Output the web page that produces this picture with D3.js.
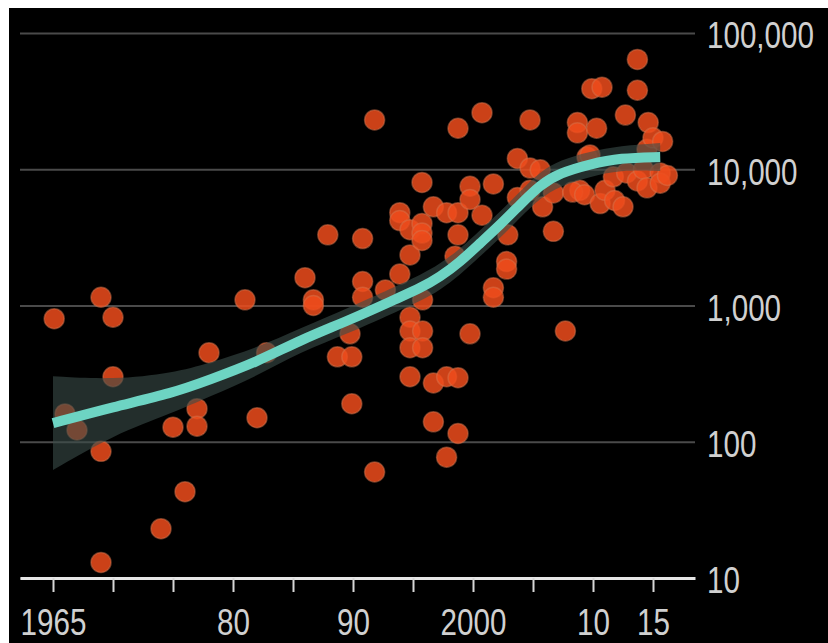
<!DOCTYPE html>
<html>
<head>
<meta charset="utf-8">
<script src="https://cdn.jsdelivr.net/npm/d3@7"></script>
<style>
  body { margin: 0; background: #fff; }
  svg { display: block; }
  .tick text { font-family: "Liberation Sans", Arial, sans-serif; fill: #d0d0d0; }
</style>
</head>
<body>
<svg id="chart" width="828" height="643"></svg>
<script>
// dots: year and value
let dotYears = [
    1965.1, 1966, 1967, 1969, 1969, 1969, 1970, 1970, 1974, 1975, 1976, 1977, 1977, 1978, 1981, 1982, 1982.8,
    1986, 1986.7, 1986.7, 1987.9, 1988.7, 1989.75, 1989.9, 1989.9, 1990.8, 1990.8, 1990.8, 1991.8, 1991.8, 1992.7,
    1993.9, 1993.9, 1993.9, 1994.75, 1994.75, 1994.75, 1994.75, 1994.75, 1994.75,
    1995.75, 1995.75, 1995.75, 1995.75, 1995.8, 1995.8, 1995.8, 1996.7, 1996.7, 1996.7,
    1997.8, 1997.8, 1997.8, 1998.75, 1998.75, 1998.75, 1998.75, 1998.75, 1998.5,
    1999.75, 1999.75, 1999.75, 2000.75, 2000.75, 2001.7, 2001.7, 2001.7, 2002.8, 2002.8, 2002.9,
    2003.7, 2003.7, 2004.75, 2004.75, 2004.75, 2005.6, 2005.8, 2006.7, 2006.7, 2007.7,
    2008.7, 2008.7, 2008.9, 2008.3, 2009.3, 2009.5, 2009.75, 2009.9, 2010.3, 2010.6, 2010.75,
    2011, 2011.7, 2011.8, 2012.5, 2012.7, 2012.8, 2013.7, 2013.7, 2013.7, 2014.2, 2014.5, 2014.5,
    2014.6, 2015, 2015.6, 2015.6, 2015.8, 2016.2
];
let dotValues = [
    800, 160, 122, 1150, 85, 13, 820, 300, 23, 128, 43, 175, 130, 450, 1100, 150, 450,
    1600, 1100, 1000, 3300, 420, 620, 420, 190, 3100, 1500, 1150, 23000, 60, 1300,
    4800, 4200, 1700, 3600, 2350, 820, 650, 490, 300,
    8000, 4000, 3400, 3000, 1100, 650, 490, 5300, 270, 140,
    4800, 300, 77, 20000, 4800, 3300, 295, 115, 2300,
    7500, 6000, 620, 26000, 4600, 7800, 1350, 1150, 2100, 1850, 3300,
    12000, 6200, 23000, 10200, 7000, 9900, 5300, 3500, 6700, 650,
    22000, 18500, 7000, 6800, 6500, 12300, 12700, 39000, 20000, 5600, 40000,
    7000, 8800, 5900, 5300, 25000, 9400, 64000, 38000, 8200, 10000, 14000, 7300,
    22000, 17000, 9400, 7900, 16000, 9000
];

// smoothed trend with its band
let trendYears = [1965, 1970, 1975, 1978, 1982, 1985.6, 1989.75, 1993.9, 1995.6, 1997.25, 1998.9,
    2000.6, 2002.25, 2003.9, 2005.6, 2007.25, 2009.75, 2012.25, 2015.6];
let trendValues = [137, 180, 228, 284, 385, 558, 783, 1150, 1340, 1620, 2080,
    2870, 3900, 5470, 7700, 9400, 10900, 12100, 12300];
let bandUpper = [303, 285, 320, 378, 489, 681, 970, 1430, 1670, 2020, 2590,
    3580, 4870, 6830, 9600, 11700, 13500, 14900, 15600];
let bandLower = [62, 112, 163, 214, 303, 457, 630, 925, 1075, 1300, 1670,
    2300, 3130, 4380, 6150, 7550, 8800, 9900, 9700];

let xTicks = [1965, 1970, 1975, 1980, 1985, 1990, 1995, 2000, 2005, 2010, 2015];
let xTickLabels = ["1965", "", "", "80", "", "90", "", "2000", "", "10", "15"];
let yTicks = [10, 100, 1000, 10000, 100000];
let yTickLabels = ["10", "100", "1,000", "10,000", "100,000"];

let narrow = 0.8;   // squeeze labels to look like the condensed face

let svg = d3.select("#chart");
svg.append("rect").attr("x", 9).attr("y", 8).attr("width", 819).attr("height", 635).attr("fill", "#000");

let xScale = d3.scaleLinear().domain([1962.25, 2018.5]).range([20, 695]);
let yScale = d3.scaleLog().domain([10, 100000]).range([578, 33]);

// gridlines + labels on the right
let yAxis = svg.append("g").attr("transform", "translate(20,0)")
    .call(d3.axisRight(yScale).tickValues(yTicks).tickSize(675).tickPadding(12)
        .tickFormat((d, i) => yTickLabels[i]));
yAxis.select(".domain").remove();
yAxis.selectAll(".tick line").attr("stroke", "#4a4a4a").attr("stroke-width", 2);
yAxis.selectAll(".tick text").attr("font-size", 37).attr("dy", "0.4em")
    .attr("x", 687 / narrow).attr("transform", "scale(" + narrow + ",1)");

// dots
let dots = dotYears.map((d, i) => ({year: d, value: dotValues[i]}));
svg.append("g").selectAll("circle").data(dots).enter().append("circle")
    .attr("cx", d => xScale(d.year)).attr("cy", d => yScale(d.value)).attr("r", 10)
    .attr("fill", "#ee4c1c").attr("fill-opacity", 0.85)
    .attr("stroke", "#d8744c").attr("stroke-opacity", 0.5).attr("stroke-width", 1.5);

// band and trend
let trend = trendYears.map((d, i) => ({year: d, value: trendValues[i], hi: bandUpper[i], lo: bandLower[i]}));
let area = d3.area().curve(d3.curveBasis)
    .x(d => xScale(d.year)).y0(d => yScale(d.lo)).y1(d => yScale(d.hi));
svg.append("path").datum(trend).attr("d", area).attr("fill", "#3a4d49").attr("fill-opacity", 0.6);

let line = d3.line().curve(d3.curveBasis).x(d => xScale(d.year)).y(d => yScale(d.value));
svg.append("path").datum(trend).attr("d", line).attr("fill", "none")
    .attr("stroke", "#6dd4c3").attr("stroke-width", 10);

// bottom axis
let xAxis = svg.append("g").attr("transform", "translate(0,578)")
    .call(d3.axisBottom(xScale).tickValues(xTicks).tickSize(14).tickSizeOuter(0)
        .tickFormat((d, i) => xTickLabels[i]));
xAxis.select(".domain").attr("stroke", "#e6e6e6").attr("stroke-width", 3);
xAxis.selectAll(".tick line").attr("stroke", "#d6d6d6").attr("stroke-width", 2);
xAxis.selectAll(".tick text").attr("font-size", 37).attr("y", 57).attr("dy", null)
    .attr("transform", "scale(" + narrow + ",1)");
</script>
</body>
</html>
